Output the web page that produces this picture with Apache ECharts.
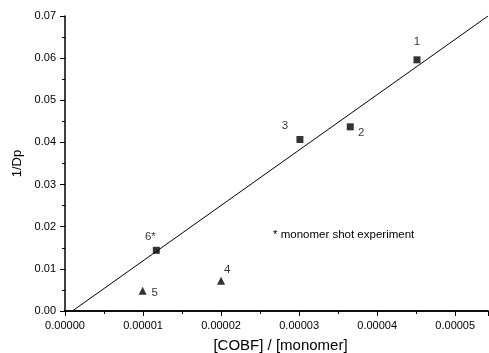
<!DOCTYPE html>
<html>
<head>
<meta charset="utf-8">
<script src="https://cdn.jsdelivr.net/npm/echarts@6/dist/echarts.min.js"></script>
<style>html,body{margin:0;padding:0;background:#fff}#c{width:489px;height:353px}</style>
</head>
<body>
<div id="c"></div>
<script>
// Data
const squareLabels = ['1', '2', '3', '6*'];
const squareX = [4.51e-5, 3.655e-5, 3.01e-5, 1.17e-5];
const squareY = [0.0596, 0.0437, 0.0407, 0.0144];
const triangleLabels = ['4', '5'];
const triangleX = [2.0e-5, 0.995e-5];
const triangleY = [0.0072, 0.0048];
const fitX = [0.094e-5, 5.42e-5];
const fitY = [0.0, 0.07];
const xTicks = ['0.00000', '0.00001', '0.00002', '0.00003', '0.00004', '0.00005'];
const yTicks = ['0.00', '0.01', '0.02', '0.03', '0.04', '0.05', '0.06', '0.07'];
const note = '* monomer shot experiment';

// label offsets (styling, separate from data)
const labelOffsets = {'1': [0, -18], '2': [11, 6], '3': [-15, -14], '6*': [-6, -13], '4': [6, -11], '5': [12, 2]};

const font = 'Liberation Sans, Arial, sans-serif';
function pts(labels, xs, ys) {
  return labels.map((l, i) => ({
    value: [xs[i], ys[i]], name: l,
    label: {show: true, formatter: l, position: 'inside', offset: labelOffsets[l],
      color: '#000', fontSize: 11.5, fontFamily: font}
  }));
}

const chart = echarts.init(document.getElementById('c'), null, {renderer: 'canvas'});
const axisBase = {
  axisLine: {show: true, lineStyle: {color: '#000', width: 1.5}},
  splitLine: {show: false},
};
chart.setOption({
  animation: false,
  backgroundColor: '#fff',
  grid: {left: 65, right: 1, top: 16, bottom: 42, containLabel: false, outerBoundsMode: 'none'},
  xAxis: [
    Object.assign({}, axisBase, {
      type: 'value', min: 0, max: 5.42e-5, interval: 1e-5, position: 'bottom',
      name: '[COBF] / [monomer]', nameLocation: 'middle', nameGap: 27,
      nameTextStyle: {fontSize: 15, color: '#000', fontFamily: font, padding: [0, 0, 0, 8]},
      axisTick: {show: true, inside: false, length: 5, lineStyle: {color: '#000'}},
      minorTick: {show: true, splitNumber: 2, length: 3, lineStyle: {color: '#000'}},
      axisLabel: {color: '#000', fontSize: 11, fontFamily: font, margin: 9,
        formatter: v => xTicks[Math.round(v / 1e-5)] || ''}
    }),
    Object.assign({}, axisBase, {
      type: 'value', min: 0, max: 5.42e-5, interval: 1e-5, position: 'top',
      axisTick: {show: true, inside: true, length: 5, lineStyle: {color: '#000'}},
      minorTick: {show: true, splitNumber: 2, length: 3, lineStyle: {color: '#000'}},
      axisLabel: {show: false}
    })
  ],
  yAxis: [
    Object.assign({}, axisBase, {
      type: 'value', min: 0, max: 0.07, interval: 0.01, position: 'left',
      name: '1/Dp', nameLocation: 'middle', nameGap: 40,
      nameTextStyle: {fontSize: 13, color: '#000', fontFamily: font},
      axisTick: {show: true, inside: false, length: 5, lineStyle: {color: '#000'}},
      minorTick: {show: true, splitNumber: 2, length: 3, lineStyle: {color: '#000'}},
      axisLabel: {color: '#000', fontSize: 11, fontFamily: font, margin: 9,
        formatter: v => yTicks[Math.round(v / 0.01)] || ''}
    }),
    Object.assign({}, axisBase, {
      type: 'value', min: 0, max: 0.07, interval: 0.01, position: 'right',
      axisLine: {show: false},
      axisTick: {show: true, inside: true, length: 4, lineStyle: {color: '#000'}},
      minorTick: {show: false},
      axisLabel: {show: false}
    })
  ],
  graphic: [{
    type: 'text', left: 273, top: 229,
    style: {text: note, fill: '#000', fontSize: 11.5, fontFamily: font}
  }],
  series: [
    {
      type: 'line', data: fitX.map((x, i) => [x, fitY[i]]), symbol: 'none',
      lineStyle: {color: '#000', width: 1}, silent: true, z: 1
    },
    {
      type: 'scatter', data: pts(squareLabels, squareX, squareY), symbol: 'rect', symbolSize: 7,
      itemStyle: {color: '#000'}, z: 3
    },
    {
      type: 'scatter', data: pts(triangleLabels, triangleX, triangleY), symbol: 'triangle', symbolSize: 8,
      itemStyle: {color: '#000'}, z: 3
    }
  ]
});
</script>
</body>
</html>
